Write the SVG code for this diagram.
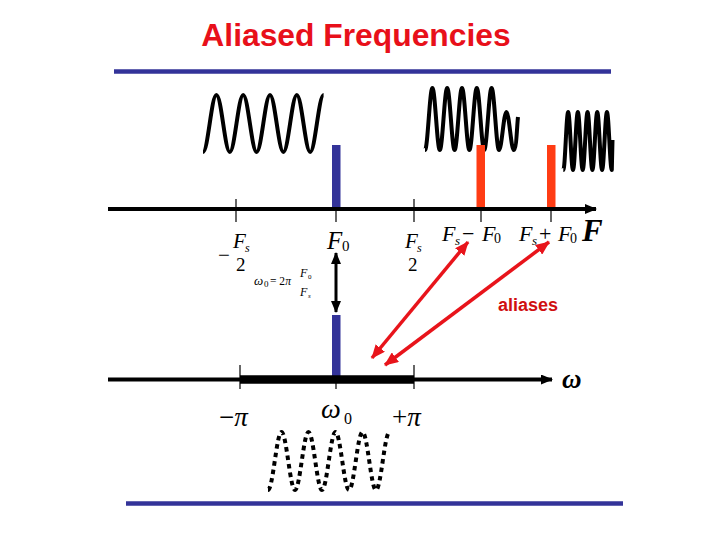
<svg xmlns="http://www.w3.org/2000/svg" width="720" height="540" viewBox="0 0 720 540">
<defs>
<style>
.m{font-family:"Liberation Serif","Times New Roman",serif;fill:#000}
.i{font-style:italic}
.wave{fill:none;stroke:#000;stroke-width:4;stroke-linejoin:round}
.axis{stroke:#000;stroke-width:4}
.tick{stroke:#000;stroke-width:1.2}
.rule{stroke:#333399;stroke-width:4.5}
.blue{fill:#333399}
.red{fill:#ff3c14}
.alias{fill:none;stroke:#e8141b;stroke-width:3.5}
</style>
<marker id="ah" viewBox="0 0 12 10" refX="11" refY="5" markerWidth="12" markerHeight="10" markerUnits="userSpaceOnUse" orient="auto">
<path d="M0,0 L12,5 L0,10 z" fill="#000"/>
</marker>
<marker id="bh" viewBox="0 0 12 10" refX="11" refY="5" markerWidth="12" markerHeight="10" markerUnits="userSpaceOnUse" orient="auto-start-reverse">
<path d="M0,0 L12,5 L0,10 z" fill="#000"/>
</marker>
<marker id="rh" viewBox="0 0 14 12" refX="13" refY="6" markerWidth="14" markerHeight="12" markerUnits="userSpaceOnUse" orient="auto-start-reverse">
<path d="M0,0 L14,6 L0,12 z" fill="#e8141b"/>
</marker>
</defs>
<rect width="720" height="540" fill="#fff"/>

<g id="title">
<text x="356" y="46" text-anchor="middle" font-family="Liberation Sans, Arial, sans-serif" font-weight="bold" font-size="31.8" fill="#e8101a">Aliased Frequencies</text>
</g>
<g id="rules">
<line class="rule" x1="114" y1="71.5" x2="611" y2="71.5"/>
<line class="rule" x1="126" y1="503.5" x2="623" y2="503.5"/>
</g>

<g id="waves">
<path class="wave" d="M203,152 C207.9,152 211.5,95 216.4,95 S225,152 229.8,152 S238.4,95 243.2,95 S251.8,152 256.6,152 S265.2,95 270,95 S278.6,152 283.4,152 S292,95 296.8,95 S305.4,152 310.2,152 S318.8,95 323.6,95"/>
<path class="wave" d="M425,150 C427.7,150 429.7,88 432.4,88 S437.1,150 439.8,150 S444.5,88 447.2,88 S451.9,150 454.6,150 S459.3,88 462,88 S466.7,150 469.4,150 S474.1,88 476.8,88 S481.5,150 484.2,150 S488.9,88 491.6,88 S496.3,150 499,150 S503.7,112 506.4,112 S511.1,150 513.8,150 S517,125 518,117"/>
<path class="wave" stroke-width="4.5" d="M563.3,170 C565.1,170 566.4,112 568.15,112 S571.2,170 573,170 S576.1,112 577.85,112 S580.9,170 582.7,170 S585.8,112 587.55,112 S590.6,170 592.4,170 S595.5,112 597.25,112 S600.3,170 602.1,170 S605.2,112 606.95,112 S610,170 611.8,170 L612.5,140"/>
<path class="wave" stroke-width="5" stroke-dasharray="4.5 4" d="M268,490 C272.9,490 276.6,432 281.5,432 S290.1,490 295,490 S303.6,432 308.5,432 S317.1,490 322,490 S330.6,432 335.5,432 S344.1,490 349,490 S357.6,432 362.5,432 S371.1,490 376,490 S384.6,432 389.5,432"/>
</g>

<g id="bars">
<rect class="blue" x="332" y="145" width="8.5" height="64"/>
<rect class="red" x="476.5" y="145" width="8.5" height="64"/>
<rect class="red" x="547" y="145" width="8.5" height="64"/>
<rect class="blue" x="332" y="315" width="8.5" height="64"/>
</g>

<g id="connectors">
<line class="axis" x1="108" y1="209" x2="596" y2="209" marker-end="url(#ah)"/>
<line class="tick" x1="236" y1="199" x2="236" y2="222"/>
<line class="tick" x1="336" y1="209" x2="336" y2="222"/>
<line class="tick" x1="414" y1="199" x2="414" y2="222"/>
<line class="tick" x1="481" y1="209" x2="481" y2="222"/>
<line class="tick" x1="551" y1="209" x2="551" y2="222"/>

<line class="axis" x1="108" y1="379.5" x2="552" y2="379.5" marker-end="url(#ah)"/>
<line stroke="#000" stroke-width="8.5" x1="240" y1="379.5" x2="414" y2="379.5"/>
<line class="tick" x1="240" y1="365" x2="240" y2="389"/>
<line class="tick" x1="336" y1="379" x2="336" y2="389"/>
<line class="tick" x1="414" y1="365" x2="414" y2="389"/>

<line stroke="#000" stroke-width="3" x1="336" y1="253" x2="336" y2="312" marker-start="url(#bh)" marker-end="url(#bh)"/>

<line class="alias" x1="468" y1="242" x2="372" y2="358" marker-start="url(#rh)" marker-end="url(#rh)"/>
<line class="alias" x1="549" y1="242" x2="385" y2="365" marker-start="url(#rh)" marker-end="url(#rh)"/>
</g>

<g id="labels-F">
<text class="m" x="218" y="262" font-size="21">−</text>
<text class="m i" x="233" y="248" font-size="21">F</text>
<text class="m i" x="245" y="252" font-size="12">s</text>
<text class="m" x="236" y="271" font-size="19">2</text>

<text class="m i" x="327" y="249" font-size="25">F</text>
<text class="m" x="342" y="251" font-size="15">0</text>

<text class="m i" x="405" y="248" font-size="21">F</text>
<text class="m i" x="417" y="252" font-size="12">s</text>
<text class="m" x="408" y="271" font-size="19">2</text>

<text class="m i" x="442" y="241" font-size="22">F</text>
<text class="m i" x="455" y="245" font-size="13">s</text>
<text class="m" x="462" y="241" font-size="22">−</text>
<text class="m i" x="482" y="241" font-size="22">F</text>
<text class="m" x="494" y="243" font-size="14">0</text>

<text class="m i" x="519" y="241" font-size="22">F</text>
<text class="m i" x="532" y="245" font-size="13">s</text>
<text class="m" x="539" y="241" font-size="22">+</text>
<text class="m i" x="558" y="241" font-size="22">F</text>
<text class="m" x="570" y="243" font-size="14">0</text>

<text class="m i" x="582" y="241" font-size="31" font-weight="bold">F</text>
</g>

<g id="formula">
<text class="m i" x="254" y="285" font-size="13">ω</text>
<text class="m" x="264" y="287" font-size="9">0</text>
<text class="m" x="270" y="285" font-size="11.5">= 2<tspan class="i">π</tspan></text>
<text class="m i" x="300" y="277" font-size="12">F</text>
<text class="m" x="308" y="279" font-size="7">0</text>
<text class="m i" x="300" y="296" font-size="12">F</text>
<text class="m i" x="308" y="298" font-size="7">s</text>
</g>

<g id="labels-omega">
<text class="m" x="219" y="426" font-size="27">−<tspan class="i">π</tspan></text>
<text class="m i" x="321" y="418" font-size="28">ω</text>
<text class="m" x="344" y="424" font-size="16">0</text>
<text class="m" x="392" y="426" font-size="27">+<tspan class="i">π</tspan></text>
<text class="m i" x="562" y="388" font-size="27" font-weight="bold">ω</text>
</g>

<g id="aliases-label">
<text x="498" y="311" font-family="Liberation Sans, Arial, sans-serif" font-weight="bold" font-size="18" fill="#d01010">aliases</text>
</g>
</svg>
